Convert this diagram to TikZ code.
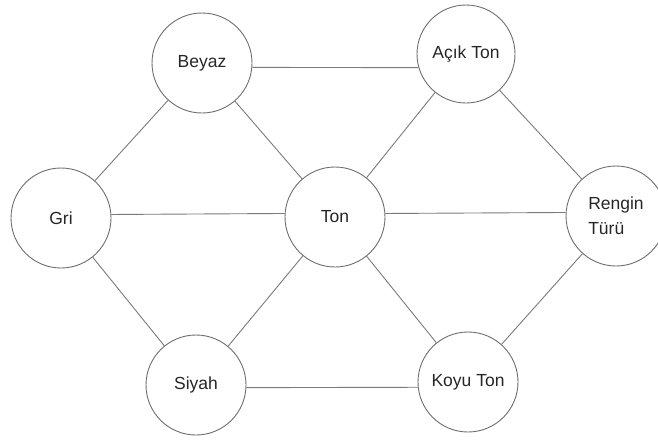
\documentclass[tikz,border=0pt]{standalone}
\usepackage{fontspec}
\setmainfont{Liberation Sans}
\definecolor{edgegray}{HTML}{7A7A7A}
\definecolor{circgray}{HTML}{6E6E6E}
\begin{document}
\begin{tikzpicture}[x=1pt,y=-1pt,
  bubble/.style={circle,draw=circgray,line width=0.9pt,minimum size=100pt,inner sep=0pt,
    font=\fontsize{17.5}{25}\selectfont,text=black!85},
  link/.style={draw=edgegray,line width=0.9pt}]
\useasboundingbox (0,0) rectangle (658,439);
\node[bubble] (beyaz) at (202,63) {Beyaz};
\node[bubble,minimum size=98pt] (acik) at (466,54) {Açık Ton};
\node[bubble] (gri) at (61,218) {Gri};
\node[bubble] (ton) at (335,217) {Ton};
\node[bubble,align=left] (rengin) at (616,216) {Rengin\\Türü};
\node[bubble] (siyah) at (196,385) {Siyah};
\node[bubble] (koyu) at (468,382) {Koyu Ton};
\draw[link] (beyaz.-5.7) -- (acik.196.6);
\draw[link] (beyaz) -- (gri);
\draw[link] (beyaz) -- (ton);
\draw[link] (acik) -- (ton);
\draw[link] (acik) -- (rengin);
\draw[link] (gri.4.6) -- (ton.176.6);
\draw[link] (ton.4.6) -- (rengin.176.6);
\draw[link] (gri) -- (siyah);
\draw[link] (ton) -- (siyah);
\draw[link] (ton) -- (koyu);
\draw[link] (rengin) -- (koyu);
\draw[link] (siyah.-3.4) -- (koyu.186.9);
\end{tikzpicture}
\end{document}
